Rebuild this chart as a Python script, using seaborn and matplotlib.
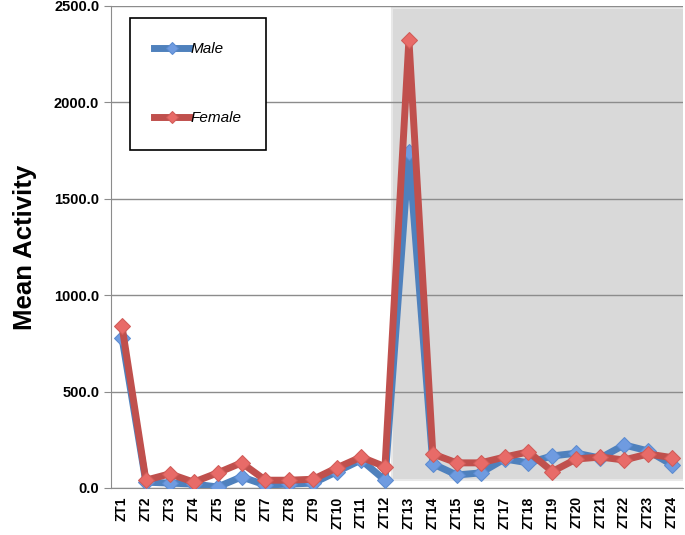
import seaborn as sns
import matplotlib.pyplot as plt
from matplotlib.ticker import FormatStrFormatter

plt.rcParams['font.family'] = ['Liberation Sans', 'DejaVu Sans']

hours = ['ZT%d' % i for i in range(1, 25)]
male = [780, 30, 25, 20, 5, 57, 15, 20, 25, 85, 145, 40,
        1740, 125, 67, 78, 150, 130, 166, 180, 155, 223, 192, 120]
female = [840, 40, 73, 30, 78, 130, 40, 40, 45, 105, 160, 110,
          2325, 176, 130, 130, 160, 187, 85, 150, 160, 145, 176, 157]

fig = plt.figure(figsize=(6.85, 5.35), dpi=100)
ax = fig.add_axes([0.162, 0.088, 0.835, 0.901])

# dark phase shading
ax.axvspan(11.3, 23.5, ymin=0.016, ymax=0.996, color='#d9d9d9', zorder=1,
           ec='#e8e8e8', lw=1.5)

sns.lineplot(x=hours, y=male, ax=ax, color='#4f81bd', linewidth=5,
             marker='D', markersize=8.5, markerfacecolor='#6f9be0',
             markeredgecolor='#5b8bd0', label='Male', zorder=3)
sns.lineplot(x=hours, y=female, ax=ax, color='#c0504d', linewidth=5,
             marker='D', markersize=8.5, markerfacecolor='#e86b68',
             markeredgecolor='#d05c58', label='Female', zorder=4)

ax.set_xlim(-0.46, 23.46)
ax.set_ylim(0, 2500)
ax.set_yticks([0, 500, 1000, 1500, 2000, 2500])
ax.yaxis.set_major_formatter(FormatStrFormatter('%.1f'))
ax.set_axisbelow('line')
ax.yaxis.grid(True, color='#8c8c8c', linewidth=1)
ax.xaxis.grid(False)

for s in ['top', 'right']:
    ax.spines[s].set_visible(False)
ax.spines['left'].set_color('#8c8c8c')
ax.spines['bottom'].set_color('#8c8c8c')
ax.tick_params(axis='y', length=5, color='#8c8c8c', labelsize=10.5)
ax.tick_params(axis='x', length=0, labelsize=10, rotation=90, pad=6)
for lab in ax.get_xticklabels() + ax.get_yticklabels():
    lab.set_fontweight('bold')

ax.set_xlabel('')
ax.set_ylabel('Mean Activity', fontsize=18.5, fontweight='bold', labelpad=12)

leg = ax.legend(loc='upper left', bbox_to_anchor=(0.033, 0.975),
                borderaxespad=0, frameon=True, fancybox=False,
                framealpha=1, edgecolor='black', handlelength=2.3,
                labelspacing=3.6, borderpad=1.6, handletextpad=0.1,
                prop={'style': 'italic', 'size': 11})
leg.get_frame().set_linewidth(1.2)
for h in leg.legend_handles:
    h.set_markersize(6)

plt.savefig('out.png')
